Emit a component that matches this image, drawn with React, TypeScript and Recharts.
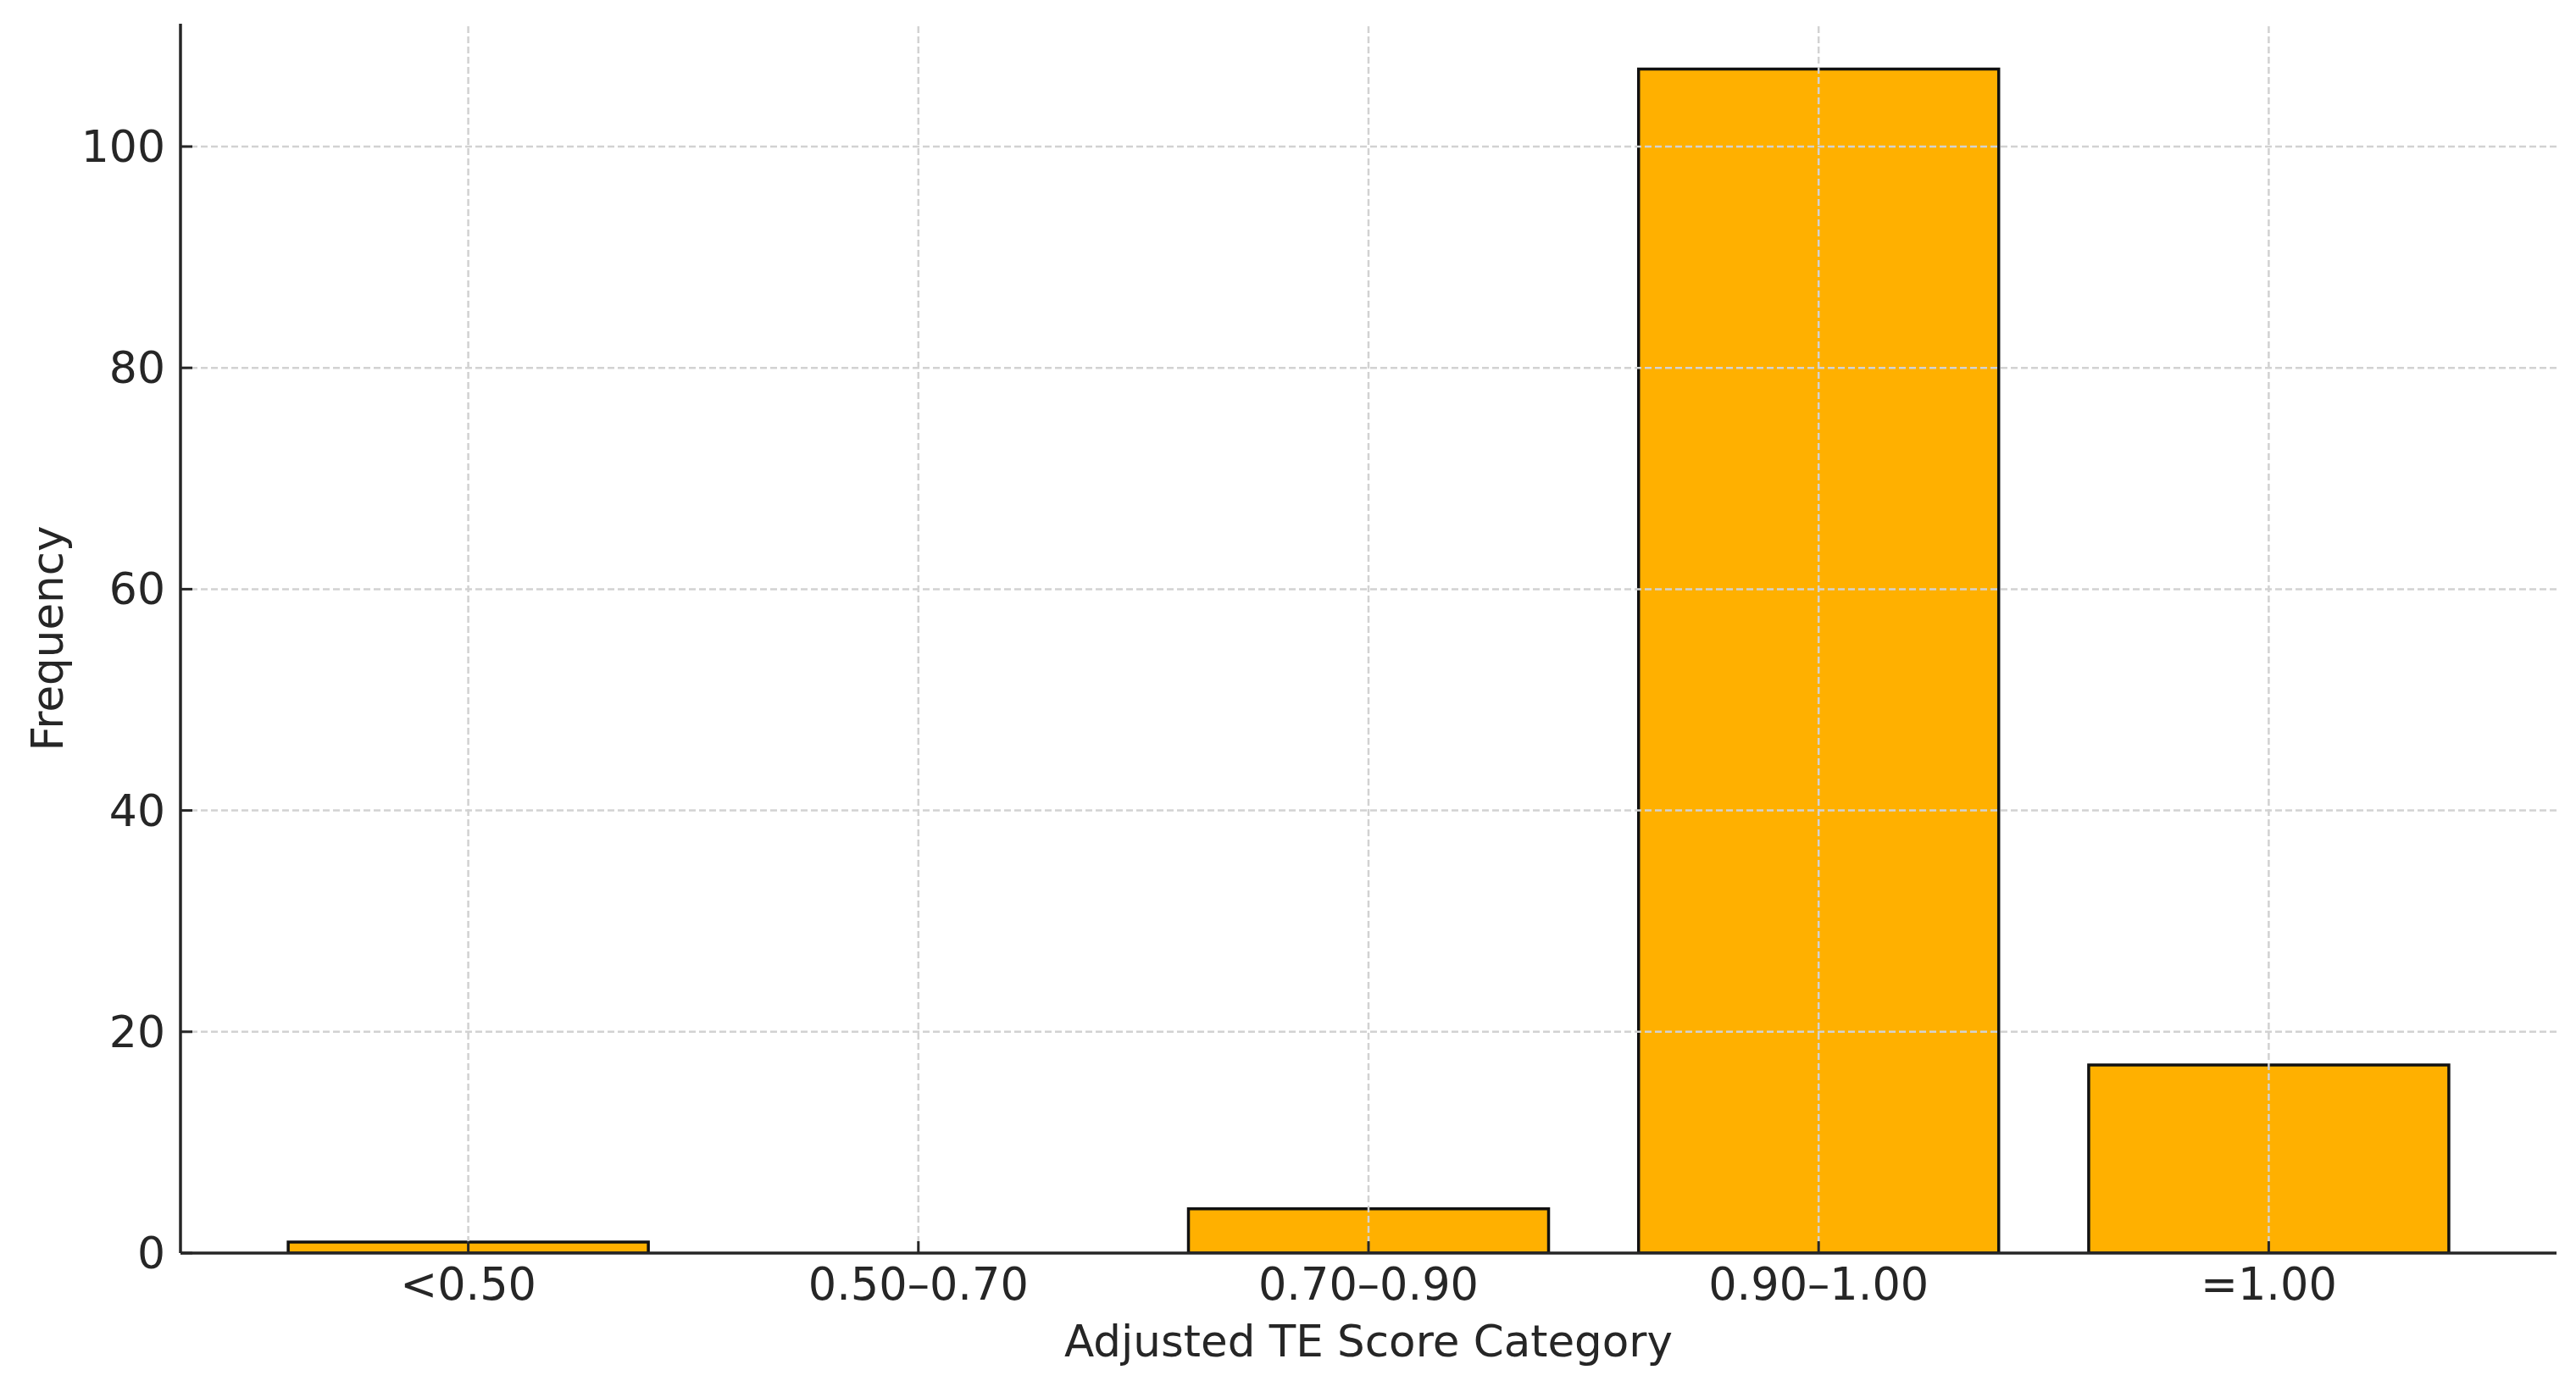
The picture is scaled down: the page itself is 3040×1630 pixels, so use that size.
import React from "react";
import {
  BarChart,
  Bar,
  XAxis,
  YAxis,
  ReferenceLine,
  Label,
} from "recharts";

// bins of adjusted TE score
const categories = ["<0.50", "0.50–0.70", "0.70–0.90", "0.90–1.00", "=1.00"];
const frequencies = [1, 0, 4, 107, 17];
const yTicks = [0, 20, 40, 60, 80, 100];
const yGridValues = [20, 40, 60, 80, 100];

const data = categories.map((c, i) => ({ category: c, frequency: frequencies[i] }));

const W = 3024;
const H = 1614;
const LEFT = 205; // y-axis position
const FONT = "'DejaVu Sans', sans-serif";
const TEXT = "#262626";
const AXIS = "#262626";
const GRID = "#d2d2d2";

const YTick = ({ x, y, payload }: any) => (
  <g>
    <line x1={LEFT} x2={LEFT + 14} y1={y} y2={y} stroke={AXIS} strokeWidth={3} />
    <text
      x={x}
      y={y}
      textAnchor="end"
      dominantBaseline="central"
      fontFamily={FONT}
      fontSize={52}
      fill={TEXT}
    >
      {payload.value}
    </text>
  </g>
);

const XTick = ({ x, y, payload }: any) => (
  <g>
    <line x1={x} x2={x} y1={y} y2={y - 14} stroke={AXIS} strokeWidth={3} />
    <text
      x={x}
      y={y + 36}
      textAnchor="middle"
      dominantBaseline="central"
      fontFamily={FONT}
      fontSize={52.5}
      fill={TEXT}
    >
      {payload.value}
    </text>
  </g>
);

export default function App() {
  return (
    <div style={{ width: W, height: H, background: "#fff" }}>
      <BarChart
        width={W}
        height={H}
        data={data}
        margin={{ top: 20, right: 15, left: 0, bottom: 0 }}
        barCategoryGap="10%"
      >
        <XAxis
          dataKey="category"
          height={143}
          padding={{ left: 74, right: 74 }}
          axisLine={{ stroke: AXIS, strokeWidth: 3.5 }}
          tickLine={false}
          tickSize={0}
          tickMargin={0}
          tick={<XTick />}
          interval={0}
        >
          <Label
            value="Adjusted TE Score Category"
            position="insideBottom"
            offset={21}
            style={{ fontFamily: FONT, fontSize: 51.5, fill: TEXT }}
          />
        </XAxis>
        <YAxis
          width={LEFT}
          domain={[0, 111.1]}
          ticks={yTicks}
          allowDataOverflow
          axisLine={{ stroke: AXIS, strokeWidth: 3.5 }}
          tickLine={false}
          tickSize={0}
          tickMargin={18}
          tick={<YTick />}
        >
          <Label
            content={({ viewBox }: any) => {
              const cy = viewBox.y + viewBox.height / 2;
              return (
                <text
                  x={66}
                  y={cy}
                  transform={`rotate(-90 66 ${cy})`}
                  textAnchor="middle"
                  fontFamily={FONT}
                  fontSize={51.5}
                  fill={TEXT}
                >
                  Frequency
                </text>
              );
            }}
          />
        </YAxis>
        <Bar
          dataKey="frequency"
          fill="#FFB000"
          stroke="#111"
          strokeWidth={3.5}
          isAnimationActive={false}
        />
        {/* dashed grid drawn over the bars, like the original */}
        {yGridValues.map((v) => (
          <ReferenceLine
            key={"y" + v}
            y={v}
            stroke={GRID}
            strokeWidth={2.5}
            strokeDasharray="8 4"
          />
        ))}
        {categories.map((c) => (
          <ReferenceLine
            key={"x" + c}
            x={c}
            stroke={GRID}
            strokeWidth={2.5}
            strokeDasharray="8 4"
          />
        ))}
      </BarChart>
    </div>
  );
}
